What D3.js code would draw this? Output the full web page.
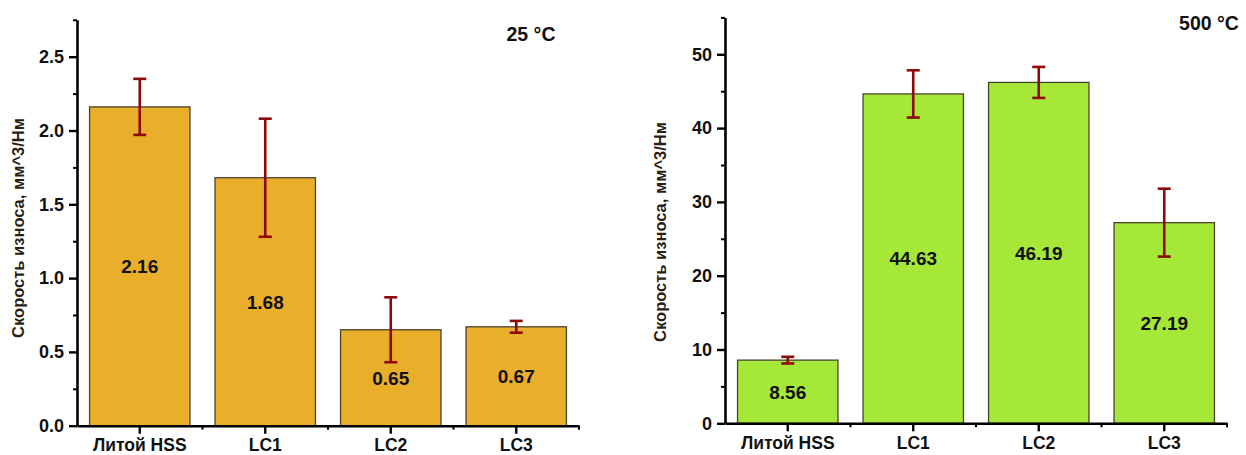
<!DOCTYPE html>
<html>
<head>
<meta charset="utf-8">
<script src="https://cdn.jsdelivr.net/npm/d3@7"></script>
<style>
  html, body { margin: 0; padding: 0; background: #fff; }
  svg { display: block; font-family: "Liberation Sans", Arial, sans-serif; }
</style>
</head>
<body>
<svg id="chart" width="1246" height="455"></svg>
<script>
// Wear rate of cast HSS and laser-clad layers LC1–LC3 at two test temperatures
const categories = ["Литой HSS", "LC1", "LC2", "LC3"];

const values25 = [2.16, 1.68, 0.65, 0.67];
const errors25 = [0.19, 0.40, 0.22, 0.04];
const ticks25 = [0, 0.5, 1.0, 1.5, 2.0, 2.5];
const minorTicks25 = [0.25, 0.75, 1.25, 1.75, 2.25, 2.75];

const values500 = [8.56, 44.63, 46.19, 27.19];
const errors500 = [0.45, 3.2, 2.1, 4.6];
const ticks500 = [0, 10, 20, 30, 40, 50];
const minorTicks500 = [5, 15, 25, 35, 45, 55];

const yLabel = "Скорость износа, мм^3/Нм";

const svg = d3.select("#chart");

function panel(opts) {
  const g = svg.append("g");
  const x = d3.scaleBand()
    .domain(categories)
    .range([opts.left, opts.left + 502])
    .paddingInner(0.2)
    .paddingOuter(0.1);
  const y = d3.scaleLinear()
    .domain([0, opts.yMax])
    .range([opts.bottom, opts.top]);

  const data = categories.map((c, i) => ({ c, v: opts.values[i], e: opts.errors[i] }));

  // bars
  g.selectAll("rect.bar").data(data).join("rect")
    .attr("class", "bar")
    .attr("x", d => x(d.c))
    .attr("y", d => y(d.v))
    .attr("width", x.bandwidth())
    .attr("height", d => y(0) - y(d.v))
    .attr("fill", opts.fill)
    .attr("stroke", "#4a4330")
    .attr("stroke-width", 1.3);

  // value labels at bar mid-height
  g.selectAll("text.val").data(data).join("text")
    .attr("class", "val")
    .attr("x", d => x(d.c) + x.bandwidth() / 2)
    .attr("y", d => (y(d.v) + y(0)) / 2)
    .attr("dy", "0.36em")
    .attr("text-anchor", "middle")
    .attr("font-size", 19)
    .attr("font-weight", "bold")
    .attr("fill", "#111")
    .text(d => d.v.toFixed(2));

  // error bars
  const eb = g.selectAll("g.err").data(data).join("g").attr("class", "err")
    .attr("stroke", "#8e0a0a").attr("stroke-width", 2.6);
  const cx = d => x(d.c) + x.bandwidth() / 2;
  eb.append("line")
    .attr("x1", cx).attr("x2", cx)
    .attr("y1", d => y(d.v + d.e)).attr("y2", d => y(d.v - d.e));
  [1, -1].forEach(s => {
    eb.append("line")
      .attr("x1", d => cx(d) - 6.5).attr("x2", d => cx(d) + 6.5)
      .attr("y1", d => y(d.v + s * d.e)).attr("y2", d => y(d.v + s * d.e));
  });

  // y axis: minor then major ticks
  g.append("g")
    .attr("transform", `translate(${opts.left},0)`)
    .call(d3.axisLeft(y).tickValues(opts.minor).tickSize(4).tickFormat(""))
    .call(a => a.select(".domain").remove())
    .call(a => a.selectAll("line").attr("stroke", "#000").attr("stroke-width", 2));
  const ya = g.append("g")
    .attr("transform", `translate(${opts.left},0)`)
    .call(d3.axisLeft(y).tickValues(opts.ticks).tickSize(8).tickSizeOuter(0)
      .tickPadding(5).tickFormat(opts.fmt));
  ya.select(".domain").attr("stroke", "#000").attr("stroke-width", 2.6);
  ya.selectAll("line").attr("stroke", "#000").attr("stroke-width", 2.4);
  ya.selectAll("text").attr("font-size", 18).attr("font-weight", "bold")
    .attr("fill", "#111").attr("font-family", "Liberation Sans, Arial, sans-serif");

  // x axis: minor ticks at category boundaries, major at category centres
  const bounds = categories.map((c, i) => i).concat([categories.length])
    .map(i => opts.left + i * x.step());
  g.selectAll("line.xminor").data(bounds.slice(1)).join("line")
    .attr("class", "xminor")
    .attr("x1", d => d).attr("x2", d => d)
    .attr("y1", opts.bottom).attr("y2", opts.bottom + 4)
    .attr("stroke", "#000").attr("stroke-width", 2);
  const xa = g.append("g")
    .attr("transform", `translate(0,${opts.bottom})`)
    .call(d3.axisBottom(x).tickSize(8).tickSizeOuter(0).tickPadding(5));
  xa.select(".domain").attr("stroke", "#000").attr("stroke-width", 2.6);
  xa.selectAll("line").attr("stroke", "#000").attr("stroke-width", 2.4);
  xa.selectAll("text").attr("font-size", 17.5).attr("font-weight", "bold")
    .attr("fill", "#111").attr("font-family", "Liberation Sans, Arial, sans-serif");

  // y-axis title
  g.append("text")
    .attr("transform", `translate(${opts.labelX},${opts.labelY}) rotate(-90)`)
    .attr("text-anchor", "middle")
    .attr("dy", "0.36em")
    .attr("font-size", 16.5)
    .attr("font-weight", "bold")
    .attr("fill", "#2a1d12")
    .text(yLabel);

  // temperature tag
  g.append("text")
    .attr("x", opts.titleX).attr("y", opts.titleY)
    .attr("text-anchor", "middle")
    .attr("font-size", 19.5)
    .attr("font-weight", "bold")
    .attr("fill", "#111")
    .text(opts.title);
}

panel({
  left: 77, top: 19.8, bottom: 425.7, yMax: 2.75,
  values: values25, errors: errors25,
  ticks: ticks25, minor: minorTicks25, fmt: d3.format(".1f"),
  fill: "#E9AE2A",
  labelX: 18, labelY: 228,
  title: "25 °C", titleX: 531, titleY: 41
});

panel({
  left: 725, top: 17.4, bottom: 423.3, yMax: 55,
  values: values500, errors: errors500,
  ticks: ticks500, minor: minorTicks500, fmt: d3.format("d"),
  fill: "#A6E838",
  labelX: 660, labelY: 232,
  title: "500 °C", titleX: 1209, titleY: 30
});
</script>
</body>
</html>
